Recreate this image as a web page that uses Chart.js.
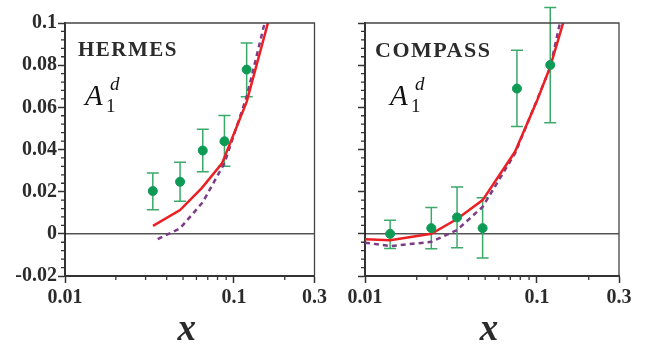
<!DOCTYPE html>
<html>
<head>
<meta charset="utf-8">
<script src="https://cdn.jsdelivr.net/npm/chart.js@4.4.1/dist/chart.umd.min.js"></script>
<style>
  html, body { margin: 0; padding: 0; background: #fff; }
  #wrap { position: relative; width: 652px; height: 345px; overflow: hidden; }
  canvas { position: absolute; top: 0; }
  #left { left: 0; }
  #right { left: 330px; }
</style>
</head>
<body>
<div id="wrap">
  <canvas id="left" width="330" height="345"></canvas>
  <canvas id="right" width="322" height="345"></canvas>
</div>
<script>
// axis ticks
const xMajorTicks = [0.01, 0.1, 0.3];
const xMinorTicks = [0.02, 0.03, 0.04, 0.05, 0.06, 0.07, 0.08, 0.09, 0.2];
const yMajorTicks = [-0.02, 0, 0.02, 0.04, 0.06, 0.08, 0.1];
const yMinorTicks = [-0.016, -0.012, -0.008, -0.004, 0.004, 0.008, 0.012, 0.016,
  0.024, 0.028, 0.032, 0.036, 0.044, 0.048, 0.052, 0.056, 0.064, 0.068, 0.072, 0.076,
  0.084, 0.088, 0.092, 0.096];

// HERMES data
const hermesX = [0.0331, 0.048, 0.0654, 0.0879, 0.119];
const hermesA1 = [0.0203, 0.0247, 0.0395, 0.0439, 0.0779];
const hermesHi = [0.0288, 0.0339, 0.0496, 0.0561, 0.0905];
const hermesLo = [0.0114, 0.0155, 0.0294, 0.032, 0.065];
const hermesFitX = [0.0332, 0.048, 0.0647, 0.085, 0.119, 0.159];
const hermesFitA1 = [0.0038, 0.0113, 0.0218, 0.0334, 0.0626, 0.1];
const hermesModelX = [0.0354, 0.048, 0.0654, 0.0879, 0.119, 0.152];
const hermesModelA1 = [-0.0025, 0.0026, 0.015, 0.0335, 0.065, 0.1];

// COMPASS data
const compassX = [0.014, 0.0243, 0.0343, 0.0483, 0.0765, 0.1195];
const compassA1 = [0.0, 0.0027, 0.0078, 0.0027, 0.0689, 0.0801];
const compassHi = [0.0065, 0.0125, 0.0222, 0.0171, 0.0871, 0.1073];
const compassLo = [-0.0069, -0.0071, -0.0066, -0.0115, 0.0509, 0.0527];
const compassFitX = [0.01, 0.014, 0.0243, 0.0343, 0.0483, 0.0745, 0.0995, 0.1195, 0.142];
const compassFitA1 = [-0.0026, -0.003, 0.0, 0.007, 0.016, 0.0389, 0.0626, 0.0793, 0.1];
const compassModelX = [0.01, 0.014, 0.0243, 0.0343, 0.0483, 0.0745, 0.0995, 0.1195, 0.136];
const compassModelA1 = [-0.0042, -0.0058, -0.0038, 0.0018, 0.0128, 0.0381, 0.063, 0.079, 0.1];

const GREEN = '#0d9a55', ERR = '#3aa96a', RED = '#ec2024', PURPLE = '#7a3d86', INK = '#2b2b2b';
const SERIF = "'Liberation Serif', 'Times New Roman', Times, serif";

const pts = (xs, ys) => xs.map((v, i) => ({ x: v, y: ys[i] }));

// zero line, error bars, frame, minor ticks and in-plot text
const panelPlugin = {
  id: 'panel',
  beforeDatasetsDraw(chart, args, o) {
    const { ctx, chartArea: a, scales: { x, y } } = chart;
    ctx.save();
    const y0 = y.getPixelForValue(0);
    ctx.strokeStyle = '#000';
    ctx.lineWidth = 1;
    ctx.beginPath(); ctx.moveTo(a.left, y0); ctx.lineTo(a.right, y0); ctx.stroke();

    ctx.strokeStyle = ERR;
    ctx.lineWidth = 1.5;
    o.xs.forEach((v, i) => {
      const px = x.getPixelForValue(v);
      const t = y.getPixelForValue(o.hi[i]), b = y.getPixelForValue(o.lo[i]);
      ctx.beginPath();
      ctx.moveTo(px, t); ctx.lineTo(px, b);
      ctx.moveTo(px - 6, t); ctx.lineTo(px + 6, t);
      ctx.moveTo(px - 6, b); ctx.lineTo(px + 6, b);
      ctx.stroke();
    });
    ctx.restore();
  },
  afterDraw(chart, args, o) {
    const { ctx, chartArea: a, scales: { x, y } } = chart;
    ctx.save();
    // top / right frame
    ctx.strokeStyle = '#444';
    ctx.lineWidth = 1.3;
    ctx.beginPath();
    ctx.moveTo(a.left, a.top); ctx.lineTo(a.right, a.top); ctx.lineTo(a.right, a.bottom);
    ctx.stroke();

    // minor ticks
    ctx.strokeStyle = '#333';
    ctx.lineWidth = 1.3;
    ctx.beginPath();
    yMinorTicks.forEach(v => {
      const py = y.getPixelForValue(v);
      ctx.moveTo(a.left - 4, py); ctx.lineTo(a.left, py);
    });
    xMinorTicks.forEach(v => {
      const px = x.getPixelForValue(v);
      ctx.moveTo(px, a.bottom); ctx.lineTo(px, a.bottom + 4);
    });
    ctx.stroke();

    // experiment label
    ctx.fillStyle = INK;
    ctx.textBaseline = 'alphabetic';
    ctx.textAlign = 'left';
    ctx.font = 'bold ' + o.labelSize + 'px ' + SERIF;
    ctx.letterSpacing = '1.5px';
    ctx.fillText(o.label, o.labelX, o.labelY);
    ctx.letterSpacing = '0px';

    // A_1^d
    ctx.fillStyle = '#111';
    ctx.font = 'italic 29px ' + SERIF;
    ctx.fillText('A', o.aX, 105);
    ctx.font = '19px ' + SERIF;
    ctx.fillText('1', o.aX + 21, 112);
    ctx.font = 'italic 19px ' + SERIF;
    ctx.fillText('d', o.aX + 25, 90);

    // x axis title
    ctx.fillStyle = INK;
    ctx.textAlign = 'center';
    ctx.font = 'italic bold 37px ' + SERIF;
    ctx.fillText('x', (a.left + a.right) / 2 - 3, 340);
    ctx.restore();
  }
};

function makePanel(id, o) {
  return new Chart(document.getElementById(id), {
    type: 'scatter',
    data: {
      datasets: [
        {
          data: pts(o.xs, o.ys),
          backgroundColor: GREEN, borderColor: GREEN,
          pointRadius: 4.5, pointHoverRadius: 4.5, showLine: false
        },
        {
          data: pts(o.fitX, o.fitY),
          showLine: true, borderColor: RED, borderWidth: 2.5,
          pointRadius: 0, fill: false, tension: 0
        },
        {
          data: pts(o.modelX, o.modelY),
          showLine: true, borderColor: PURPLE, borderWidth: 2.5, borderDash: [5, 4],
          pointRadius: 0, fill: false, tension: 0
        }
      ]
    },
    options: {
      responsive: false,
      animation: false,
      events: [],
      layout: { padding: { top: 23, right: o.padRight, left: 0, bottom: 0 } },
      plugins: {
        legend: { display: false },
        tooltip: { enabled: false },
        panel: o.panel
      },
      scales: {
        x: {
          type: 'logarithmic',
          min: 0.01, max: 0.3,
          afterBuildTicks: s => { s.ticks = xMajorTicks.map(v => ({ value: v })); },
          afterFit: s => { s.height = 69; },
          border: { display: true, color: '#333', width: 2 },
          grid: { display: true, drawOnChartArea: false, drawTicks: true, tickLength: 7, tickColor: '#333', tickWidth: 1.5 },
          ticks: {
            autoSkip: false, maxRotation: 0, padding: 3,
            color: INK, font: { family: SERIF, weight: 'bold', size: 20 },
            callback: v => String(v)
          }
        },
        y: {
          min: -0.02, max: 0.1,
          afterBuildTicks: s => { s.ticks = yMajorTicks.map(v => ({ value: v })); },
          afterFit: s => { s.width = o.yWidth; },
          border: { display: true, color: '#333', width: 2 },
          grid: { display: true, drawOnChartArea: false, drawTicks: true, tickLength: 7, tickColor: '#333', tickWidth: 1.5 },
          ticks: {
            padding: 1,
            color: INK, font: { family: SERIF, weight: 'bold', size: 20 },
            callback: v => o.showY ? String(Math.round(v * 100) / 100) : ''
          }
        }
      }
    },
    plugins: [panelPlugin]
  });
}

function build() {
  makePanel('left', {
    xs: hermesX, ys: hermesA1,
    fitX: hermesFitX, fitY: hermesFitA1,
    modelX: hermesModelX, modelY: hermesModelA1,
    padRight: 11, yWidth: 65, showY: true,
    panel: { xs: hermesX, hi: hermesHi, lo: hermesLo, label: 'HERMES', labelSize: 21, labelX: 78, labelY: 56, aX: 85 }
  });

  makePanel('right', {
    xs: compassX, ys: compassA1,
    fitX: compassFitX, fitY: compassFitA1,
    modelX: compassModelX, modelY: compassModelA1,
    padRight: 33, yWidth: 35, showY: false,
    panel: { xs: compassX, hi: compassHi, lo: compassLo, label: 'COMPASS', labelSize: 22, labelX: 45, labelY: 57, aX: 60 }
  });
}

// make sure the serif faces are loaded before the canvases paint text
Promise.all([
  document.fonts.load("bold 20px 'Liberation Serif'"),
  document.fonts.load("italic 20px 'Liberation Serif'"),
  document.fonts.load("italic bold 20px 'Liberation Serif'"),
  document.fonts.load("20px 'Liberation Serif'")
]).then(build, build);
</script>
</body>
</html>
